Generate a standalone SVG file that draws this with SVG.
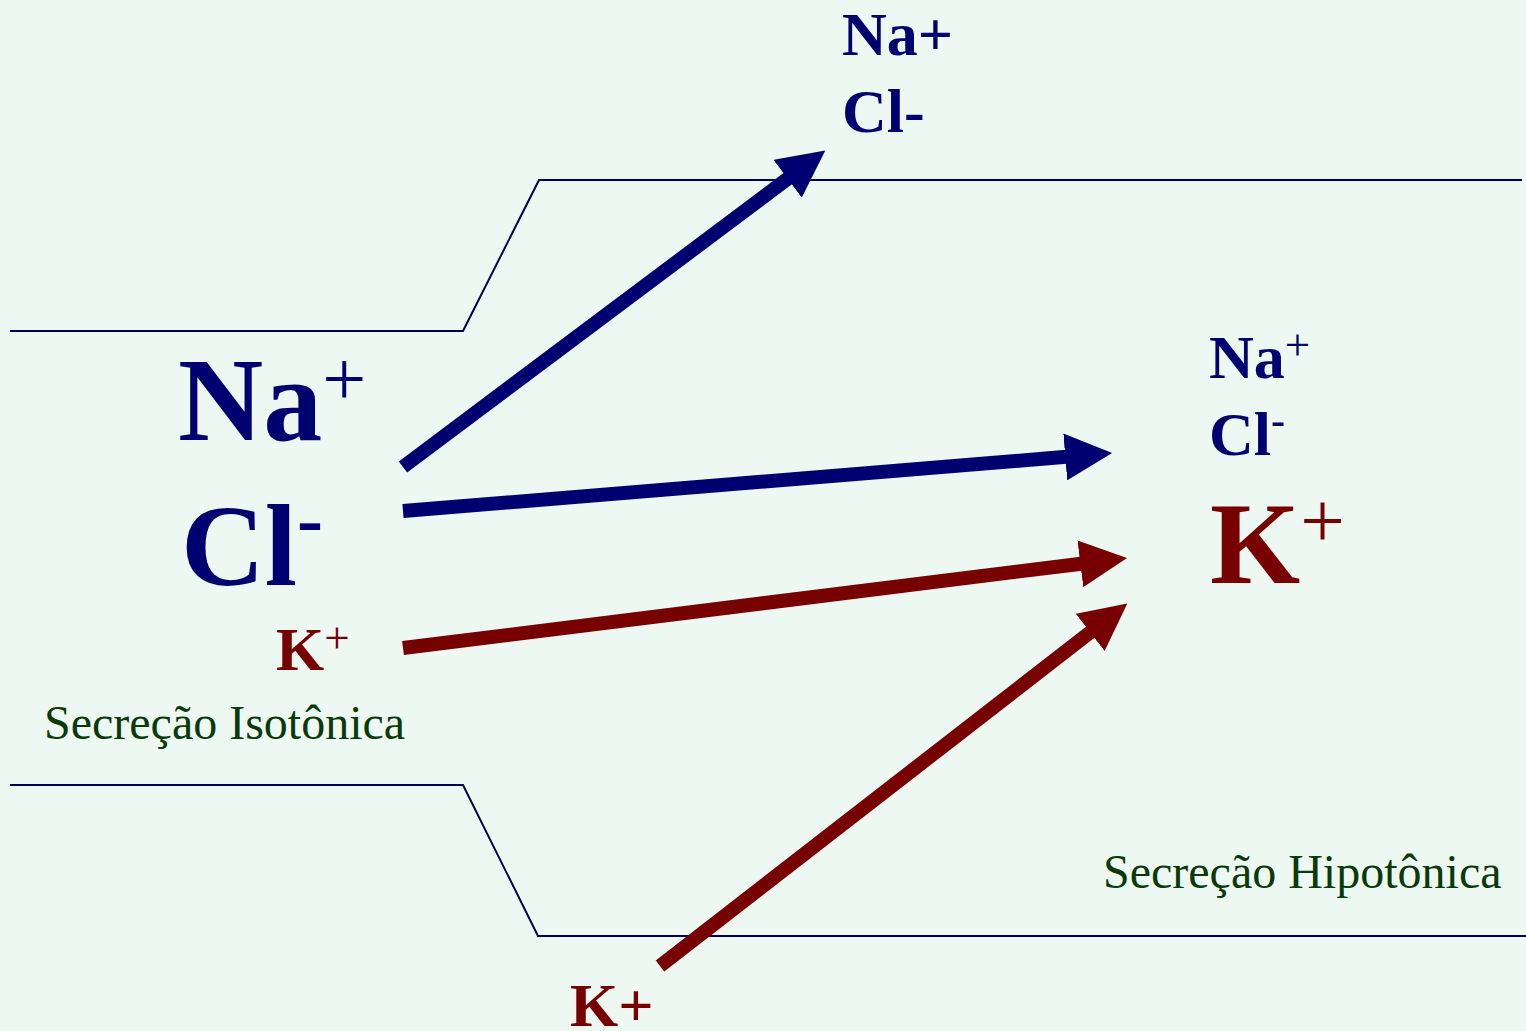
<svg xmlns="http://www.w3.org/2000/svg" width="1526" height="1031" viewBox="0 0 1526 1031">
<style>
.bg{fill:#EEF8F2}
.wall{fill:none;stroke:#000050;stroke-width:2}
.arr{fill:none;stroke-width:14;stroke-linecap:butt}
.blue{stroke:#000070}
.red{stroke:#770000}
.t{font-family:"Liberation Serif","Times New Roman",serif;font-weight:bold}
.tb{fill:#000070}
.tr{fill:#770000}
.lab{font-family:"Liberation Serif","Times New Roman",serif;font-size:48px;fill:#0A3A0A}
.sup{font-weight:normal}
</style>
<defs>
<marker id="hb" viewBox="0 0 10 10" refX="0.2" refY="5" markerUnits="strokeWidth" markerWidth="3.36" markerHeight="3.36" orient="auto">
<path d="M0,0 L10,5 L0,10 z" fill="#000070"/>
</marker>
<marker id="hr" viewBox="0 0 10 10" refX="0.2" refY="5" markerUnits="strokeWidth" markerWidth="3.36" markerHeight="3.36" orient="auto">
<path d="M0,0 L10,5 L0,10 z" fill="#770000"/>
</marker>
</defs>
<rect class="bg" x="0" y="0" width="1526" height="1031"/>
<g id="duct">
<polyline class="wall" points="10,331 463,331 539,180 1522,180"/>
<polyline class="wall" points="10,785 463,785 538,936 1526,936"/>
</g>
<g id="connectors">
<line class="arr blue" x1="403" y1="467" x2="788.4" y2="178.2" marker-end="url(#hb)"/>
<line class="arr blue" x1="403" y1="511" x2="1066.2" y2="456.8" marker-end="url(#hb)"/>
<line class="arr red" x1="403" y1="648" x2="1081.3" y2="563.7" marker-end="url(#hr)"/>
<line class="arr red" x1="660" y1="966" x2="1090.9" y2="631.8" marker-end="url(#hr)"/>
</g>
<g id="left-ions">
<text class="t tb" x="178" y="440" font-size="118">Na<tspan class="sup" font-size="78" dy="-35">+</tspan></text>
<text class="t tb" x="181" y="585" font-size="116">Cl<tspan font-size="78" dy="-40">-</tspan></text>
<text class="t tr" x="276" y="670" font-size="62">K<tspan class="sup" font-size="45" dy="-17">+</tspan></text>
</g>
<g id="label-isotonic">
<text class="lab" x="44" y="739">Secreção Isotônica</text>
</g>
<g id="top-ions">
<text class="t tb" x="842" y="55" font-size="62">Na+</text>
<text class="t tb" x="842" y="132" font-size="62">Cl-</text>
</g>
<g id="right-ions">
<text class="t tb" x="1209" y="378" font-size="62">Na<tspan class="sup" font-size="45" dy="-18">+</tspan></text>
<text class="t tb" x="1209" y="455" font-size="62">Cl<tspan font-size="42" dy="-21">-</tspan></text>
<text class="t tr" x="1210" y="583" font-size="116">K<tspan class="sup" font-size="79" dy="-36">+</tspan></text>
</g>
<g id="label-hypotonic">
<text class="lab" x="1103" y="888">Secreção Hipotônica</text>
</g>
<g id="bottom-ion">
<text class="t tr" x="570" y="1026" font-size="62">K+</text>
</g>
</svg>
